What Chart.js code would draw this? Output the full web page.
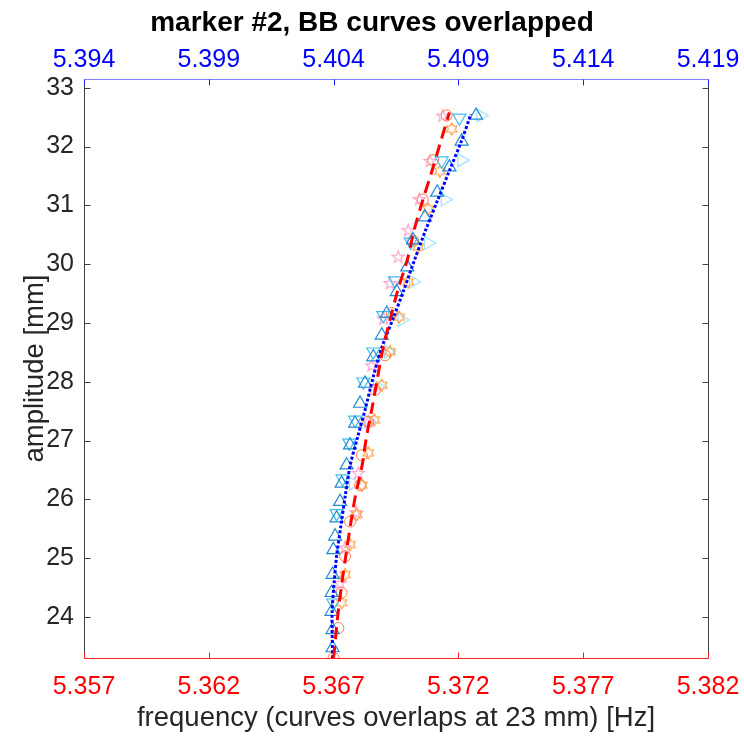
<!DOCTYPE html>
<html>
<head>
<meta charset="utf-8">
<script src="https://cdn.jsdelivr.net/npm/chart.js@4.4.0/dist/chart.umd.min.js"></script>
<style>
  html, body { margin: 0; padding: 0; background: #fff; }
</style>
</head>
<body>
<canvas id="grafico" width="744" height="737"></canvas>
<script>
// valores (amplitude em mm, frequencia em Hz)

// grupo vermelho -> eixo de baixo
const ampCirculo  = [23.30, 23.81, 24.41, 25.03, 25.62, 26.24, 26.75, 27.32, 27.86, 28.45, 29.17, 30.40, 31.10, 31.77, 32.53];
const freqCirculo = [5.36700, 5.36719, 5.36732, 5.36746, 5.36766, 5.36806, 5.36813, 5.36839, 5.36866, 5.36906, 5.36933, 5.37019, 5.37057, 5.37099, 5.37153];

const ampHexa  = [24.24, 24.72, 25.23, 25.74, 26.24, 26.79, 27.35, 27.94, 28.51, 29.10, 29.70, 30.29, 30.94, 31.58, 32.30];
const freqHexa = [5.36732, 5.36746, 5.36766, 5.36793, 5.36813, 5.36839, 5.36863, 5.36893, 5.36926, 5.36963, 5.36999, 5.37039, 5.37079, 5.37126, 5.37173];

const ampPenta  = [24.57, 25.17, 25.77, 26.44, 27.32, 28.27, 29.07, 29.67, 30.12, 30.57, 31.10, 31.75, 32.52];
const freqPenta = [5.36726, 5.36746, 5.36790, 5.36799, 5.36839, 5.36853, 5.36900, 5.36926, 5.36959, 5.36999, 5.37043, 5.37086, 5.37137];

const ampAjusteVermelho  = [23.30, 24.07, 24.57, 25.07, 25.57, 26.07, 26.57, 27.07, 27.57, 28.07, 28.57, 29.07, 29.57, 30.07, 30.57, 31.07, 31.57, 32.07, 32.58];
const freqAjusteVermelho = [5.36700, 5.36718, 5.36733, 5.36750, 5.36768, 5.36788, 5.36814, 5.36832, 5.36855, 5.36876, 5.36898, 5.36927, 5.36958, 5.36995, 5.37022, 5.37056, 5.37093, 5.37128, 5.37164];

// grupo azul -> eixo de cima
const ampTriCima  = [23.47, 23.78, 24.09, 24.41, 24.72, 25.14, 25.37, 25.68, 25.96, 26.27, 26.58, 26.92, 27.29, 27.63, 27.97, 28.42, 28.79, 29.16, 29.53, 29.95, 30.41, 30.80, 31.22, 31.65, 32.09, 32.53];
const freqTriCima = [5.40396, 5.40396, 5.40392, 5.40392, 5.40396, 5.40399, 5.40406, 5.40412, 5.40426, 5.40432, 5.40452, 5.40466, 5.40486, 5.40506, 5.40526, 5.40559, 5.40593, 5.40613, 5.40653, 5.40695, 5.40718, 5.40766, 5.40815, 5.40864, 5.40913, 5.40971];

const ampTriBaixo  = [24.24, 25.76, 26.35, 26.96, 27.35, 28.00, 28.51, 29.13, 29.72, 30.38, 31.76, 32.49];
const freqTriBaixo = [5.40399, 5.40412, 5.40436, 5.40463, 5.40486, 5.40519, 5.40559, 5.40599, 5.40646, 5.40709, 5.40833, 5.40904];

const ampTriDir  = [26.27, 27.32, 27.92, 28.51, 29.05, 29.70, 30.36, 31.10, 31.77, 32.53];
const freqTriDir = [5.40479, 5.40540, 5.40575, 5.40619, 5.40673, 5.40719, 5.40779, 5.40846, 5.40913, 5.40989];

const ampAjusteAzul  = [23.30, 24.07, 24.57, 25.07, 25.57, 26.07, 26.57, 27.07, 27.57, 28.07, 28.57, 29.07, 29.57, 30.07, 30.57, 31.07, 31.57, 32.07, 32.55];
const freqAjusteAzul = [5.40396, 5.40394, 5.40402, 5.40413, 5.40430, 5.40447, 5.40466, 5.40497, 5.40529, 5.40558, 5.40592, 5.40638, 5.40682, 5.40724, 5.40768, 5.40815, 5.40862, 5.40910, 5.40950];

// marcas dos eixos
const ticksBaixo = [5.357, 5.362, 5.367, 5.372, 5.377, 5.382];
const ticksCima  = [5.394, 5.399, 5.404, 5.409, 5.414, 5.419];
const ticksY     = [24, 25, 26, 27, 28, 29, 30, 31, 32, 33];

// junta x e y num formato que o chart.js entende
function pares(xs, ys) {
    return xs.map((v, i) => ({ x: v, y: ys[i] }));
}

// desenha estrela (pentagrama / hexagrama) vazada num canvas pequeno
function fazEstrela(pontas, rExt, rInt, cor) {
    const c = document.createElement('canvas');
    const t = Math.ceil(rExt * 2 + 4);
    c.width = t; c.height = t;
    const g = c.getContext('2d');
    g.strokeStyle = cor;
    g.lineWidth = 1.1;
    g.beginPath();
    for (let i = 0; i < pontas * 2; i++) {
        const r = i % 2 === 0 ? rExt : rInt;
        const ang = -Math.PI / 2 + i * Math.PI / pontas;
        const px = t / 2 + r * Math.cos(ang), py = t / 2 + r * Math.sin(ang);
        if (i === 0) g.moveTo(px, py); else g.lineTo(px, py);
    }
    g.closePath();
    g.stroke();
    return c;
}

const pentagrama = fazEstrela(5, 6.5, 2.6, '#ff9ccc');
const hexagrama  = fazEstrela(6, 6, 3.4, '#ff9933');

// titulo centrado na figura inteira, como no matlab
const tituloCentro = {
    id: 'tituloCentro',
    afterLayout(chart) {
        const t = chart.titleBlock;
        if (t) { t.left = 0; t.right = chart.width; }
    }
};

// marcas para dentro e moldura, no estilo do matlab
const moldura = {
    id: 'moldura',
    afterDraw(chart) {
        const { ctx, chartArea: a, scales } = chart;
        const L = Math.round(a.left) + 0.5, R = Math.round(a.right) + 0.5;
        const T = Math.round(a.top) + 0.5, B = Math.round(a.bottom) + 0.5;
        ctx.save();
        ctx.lineWidth = 1;
        ctx.strokeStyle = '#404040';
        ctx.beginPath();
        ctx.moveTo(L, T); ctx.lineTo(L, B);
        ctx.moveTo(R, T); ctx.lineTo(R, B);
        ticksY.forEach(v => {
            const y = Math.round(scales.y.getPixelForValue(v)) + 0.5;
            ctx.moveTo(L, y); ctx.lineTo(L + 6, y);
            ctx.moveTo(R, y); ctx.lineTo(R - 6, y);
        });
        ctx.stroke();

        ctx.strokeStyle = '#ff2020';
        ctx.beginPath();
        ctx.moveTo(L, B); ctx.lineTo(R, B);
        ticksBaixo.forEach(v => {
            const x = Math.round(scales.x.getPixelForValue(v)) + 0.5;
            ctx.moveTo(x, B); ctx.lineTo(x, B - 6);
        });
        ctx.stroke();

        ctx.strokeStyle = '#8080ff';
        ctx.beginPath();
        ctx.moveTo(L, T); ctx.lineTo(R, T);
        ctx.stroke();
        ctx.strokeStyle = '#2020ff';
        ctx.beginPath();
        ticksCima.forEach(v => {
            const x = Math.round(scales.x2.getPixelForValue(v)) + 0.5;
            ctx.moveTo(x, T); ctx.lineTo(x, T + 6);
        });
        ctx.stroke();
        ctx.restore();
    }
};

const fonte = "'Liberation Sans', Arial, Helvetica, sans-serif";

const ctx = document.getElementById('grafico').getContext('2d');
const grafico = new Chart(ctx, {
    type: 'scatter',
    data: {
        datasets: [
            {
                label: 'ajuste vermelho',
                data: pares(freqAjusteVermelho, ampAjusteVermelho),
                xAxisID: 'x',
                showLine: true,
                borderColor: '#ff0000',
                borderWidth: 3,
                borderDash: [12, 7],
                tension: 0.3,
                pointRadius: 0,
                order: 0
            },
            {
                label: 'ajuste azul',
                data: pares(freqAjusteAzul, ampAjusteAzul),
                xAxisID: 'x2',
                showLine: true,
                borderColor: '#0000ff',
                borderWidth: 3,
                borderDash: [3, 2],
                tension: 0.3,
                pointRadius: 0,
                order: 0
            },
            {
                label: 'circulos',
                data: pares(freqCirculo, ampCirculo),
                xAxisID: 'x',
                pointStyle: 'circle',
                pointRadius: 5.5,
                borderColor: '#ff7f50',
                backgroundColor: 'rgba(0,0,0,0)',
                borderWidth: 1,
                order: 3
            },
            {
                label: 'hexagramas',
                data: pares(freqHexa, ampHexa),
                xAxisID: 'x',
                pointStyle: hexagrama,
                order: 3
            },
            {
                label: 'pentagramas',
                data: pares(freqPenta, ampPenta),
                xAxisID: 'x',
                pointStyle: pentagrama,
                order: 3
            },
            {
                label: 'triangulos direita',
                data: pares(freqTriDir, ampTriDir),
                xAxisID: 'x2',
                pointStyle: 'triangle',
                rotation: 90,
                pointRadius: 7.5,
                borderColor: '#9fe3ff',
                backgroundColor: 'rgba(0,0,0,0)',
                borderWidth: 1.2,
                order: 4
            },
            {
                label: 'triangulos baixo',
                data: pares(freqTriBaixo, ampTriBaixo),
                xAxisID: 'x2',
                pointStyle: 'triangle',
                rotation: 180,
                pointRadius: 7.5,
                borderColor: '#3fbff0',
                backgroundColor: 'rgba(0,0,0,0)',
                borderWidth: 1.2,
                order: 2
            },
            {
                label: 'triangulos cima',
                data: pares(freqTriCima, ampTriCima),
                xAxisID: 'x2',
                pointStyle: 'triangle',
                pointRadius: 7.5,
                borderColor: '#1f8ad4',
                backgroundColor: 'rgba(0,0,0,0)',
                borderWidth: 1.2,
                order: 1
            }
        ]
    },
    options: {
        responsive: false,
        animation: false,
        events: [],
        layout: { padding: { left: 0, right: 36, top: 0, bottom: 0 } },
        plugins: {
            legend: { display: false },
            tooltip: { enabled: false },
            title: {
                display: true,
                text: 'marker #2, BB curves overlapped',
                color: '#000',
                font: { family: fonte, size: 28, weight: 'bold' },
                padding: { top: 6, bottom: 0 }
            }
        },
        scales: {
            x: {
                type: 'linear',
                position: 'bottom',
                min: 5.357,
                max: 5.382,
                grid: { display: false, drawTicks: false },
                border: { display: false },
                afterBuildTicks: s => { s.ticks = ticksBaixo.map(v => ({ value: v })); },
                afterFit: s => { s.height = 79; s.paddingLeft = 0; s.paddingRight = 0; },
                ticks: {
                    autoSkip: false,
                    maxRotation: 0,
                    padding: 14,
                    color: '#ff0000',
                    font: { family: fonte, size: 25 },
                    callback: v => v.toFixed(3)
                },
                title: {
                    display: true,
                    text: 'frequency (curves overlaps at 23 mm) [Hz]',
                    color: '#262626',
                    font: { family: fonte, size: 27.5 },
                    padding: { top: 0, bottom: 2.5 }
                }
            },
            x2: {
                type: 'linear',
                position: 'top',
                min: 5.394,
                max: 5.419,
                grid: { display: false, drawTicks: false },
                border: { display: false },
                afterBuildTicks: s => { s.ticks = ticksCima.map(v => ({ value: v })); },
                afterFit: s => { s.height = 39.4; s.paddingLeft = 0; s.paddingRight = 0; },
                ticks: {
                    autoSkip: false,
                    maxRotation: 0,
                    padding: 4,
                    color: '#0000ff',
                    font: { family: fonte, size: 25 },
                    callback: v => v.toFixed(3)
                }
            },
            y: {
                type: 'linear',
                min: 23.30,
                max: 33.15,
                grid: { display: false, drawTicks: false },
                border: { display: false },
                afterBuildTicks: s => { s.ticks = ticksY.map(v => ({ value: v })); },
                afterFit: s => { s.width = 84; s.paddingTop = 0; s.paddingBottom = 0; },
                ticks: {
                    padding: 10,
                    color: '#262626',
                    font: { family: fonte, size: 25 }
                },
                title: {
                    display: true,
                    text: 'amplitude [mm]',
                    color: '#262626',
                    font: { family: fonte, size: 27.5 },
                    padding: { top: 18.5, bottom: 0 }
                }
            }
        }
    },
    plugins: [tituloCentro, moldura]
});
</script>
</body>
</html>
